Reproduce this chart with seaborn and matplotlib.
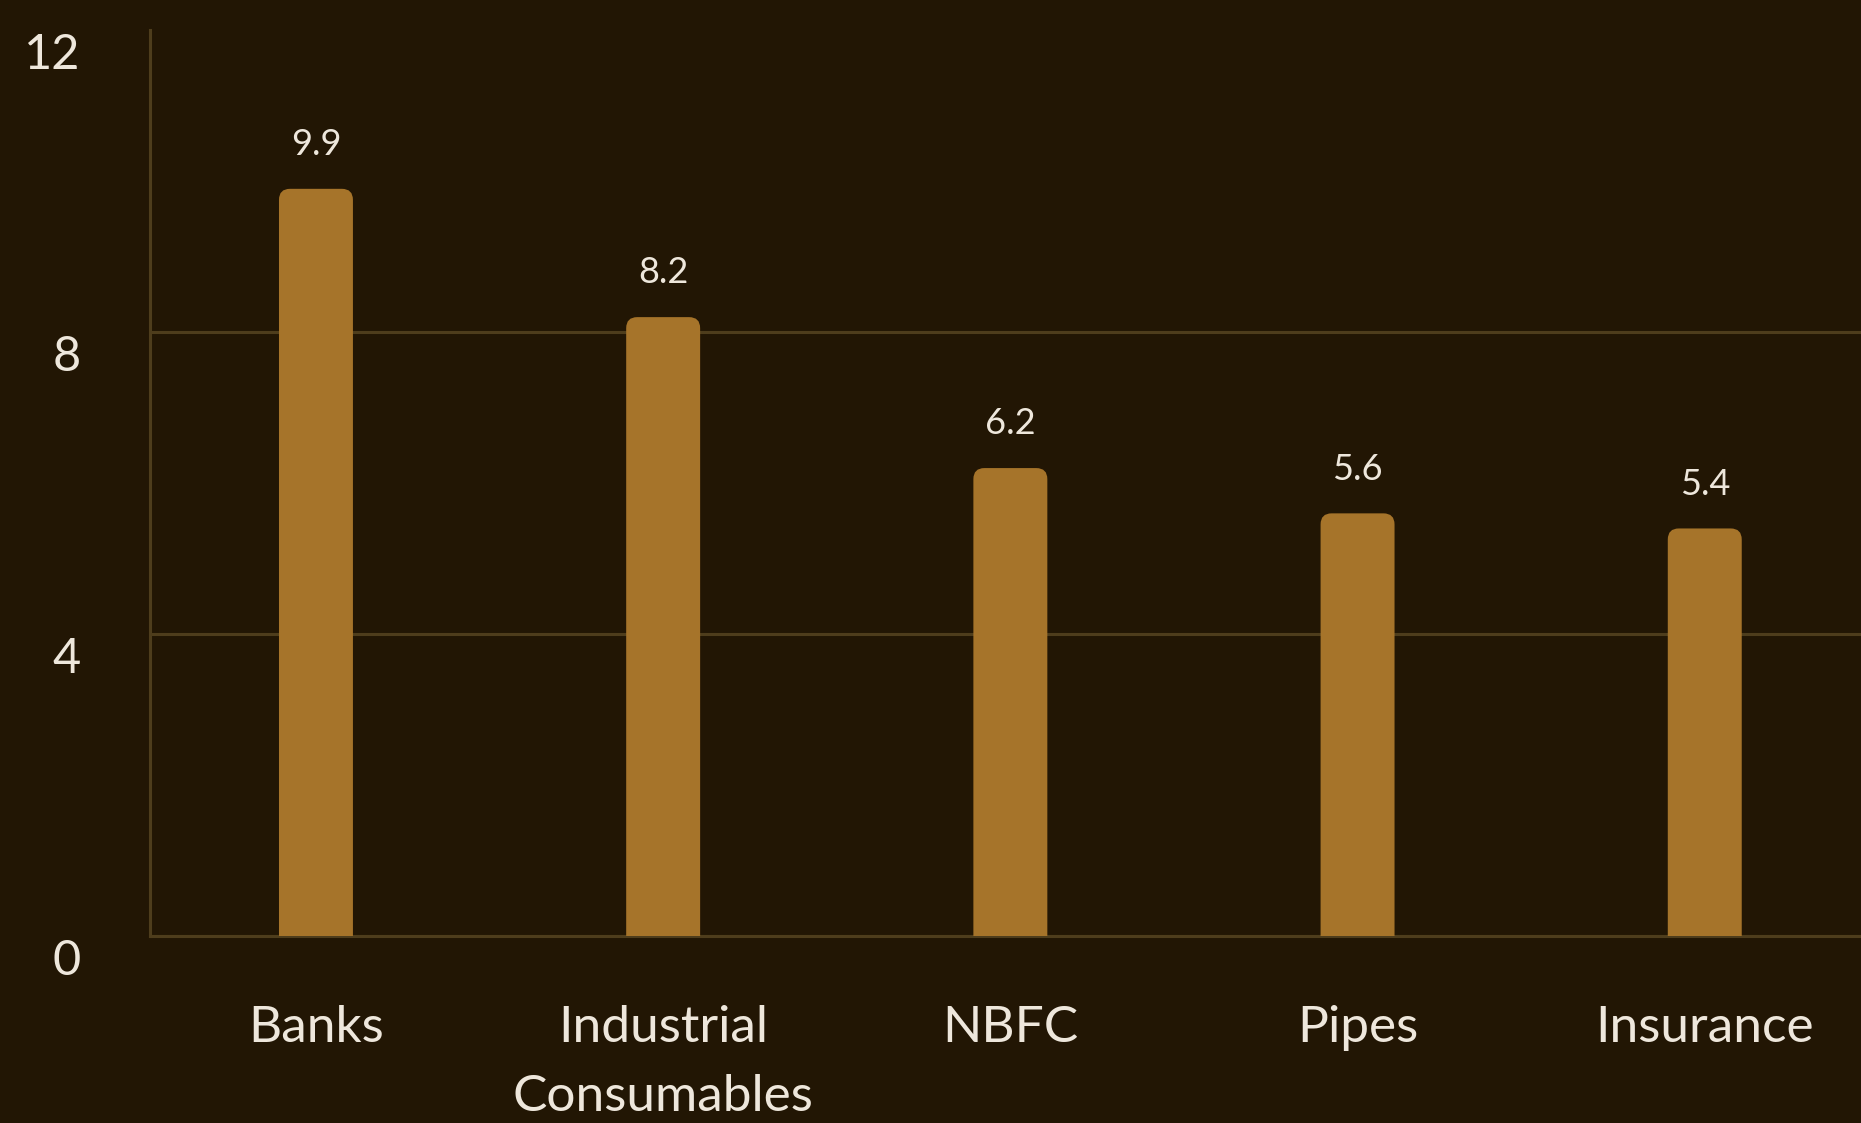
import numpy as np
import pandas as pd
import matplotlib
matplotlib.use("Agg")
import matplotlib.pyplot as plt
import matplotlib.transforms as mtransforms
from matplotlib.patches import FancyBboxPatch
import seaborn as sns

# data
sectors = ["Banks", "Industrial\nConsumables", "NBFC", "Pipes", "Insurance"]
values = [9.9, 8.2, 6.2, 5.6, 5.4]
y_ticks = [0, 4, 8, 12]

bg = "#221604"
bar_col = "#A6742A"
grid_col = "#4E3D1C"
text_col = "#EEE7DC"

sns.set_theme(style="dark")
plt.rcParams["font.family"] = ["Lato", "DejaVu Sans"]

df = pd.DataFrame({"sector": sectors, "value": values})

fig = plt.figure(figsize=(18.61, 11.23), dpi=100, facecolor=bg)
ax = fig.add_axes([0.0806, 0.1665, 0.9194, 0.8065])
ax.set_facecolor(bg)

sns.barplot(data=df, x="sector", y="value", color=bar_col, width=0.213,
            saturation=1, ax=ax, zorder=3)

ax.set_xlim(-0.478, 4.45)
ax.set_ylim(0, 12)

# rounded tops for the bars
x_px = ax.get_window_extent().width / (4.45 + 0.478)
y_px = ax.get_window_extent().height / 12
r = 11 / x_px
for p in list(ax.patches):
    x0, w, h = p.get_x(), p.get_width(), p.get_height()
    rb = FancyBboxPatch((x0, -0.5), w, h + 0.5,
                        boxstyle=f"round,pad=0,rounding_size={r}",
                        mutation_aspect=x_px / y_px,
                        facecolor=bar_col, edgecolor="none", zorder=3)
    ax.add_patch(rb)
    p.set_visible(False)
    ax.annotate(f"{h:.1f}", (x0 + w / 2, h), xytext=(0, 20),
                textcoords="offset points", ha="center", va="bottom",
                fontsize=26, color=text_col)

ax.set_yticks(y_ticks)
ax.set_yticklabels([str(t) for t in y_ticks])
ax.grid(axis="y", color=grid_col, linewidth=2.2, zorder=0)
ax.grid(axis="x", visible=False)
ax.set_axisbelow(True)
# no gridline along the top
ax.yaxis.get_gridlines()[-1].set_visible(False)

for s in ["top", "right"]:
    ax.spines[s].set_visible(False)
for s in ["left", "bottom"]:
    ax.spines[s].set_visible(True)
    ax.spines[s].set_color(grid_col)
    ax.spines[s].set_linewidth(2.2)

ax.tick_params(axis="y", length=0, pad=50, labelsize=35, labelcolor=text_col)
ax.tick_params(axis="x", length=0, pad=50, labelsize=37, labelcolor=text_col)
for lab in ax.get_xticklabels():
    lab.set_linespacing(1.62)

# y labels sit a little below their gridlines
shift = mtransforms.ScaledTranslation(0, -0.21, fig.dpi_scale_trans)
for lab in ax.get_yticklabels():
    lab.set_transform(lab.get_transform() + shift)

ax.set_xlabel("")
ax.set_ylabel("")

fig.savefig("out.png", dpi=100, facecolor=bg)
